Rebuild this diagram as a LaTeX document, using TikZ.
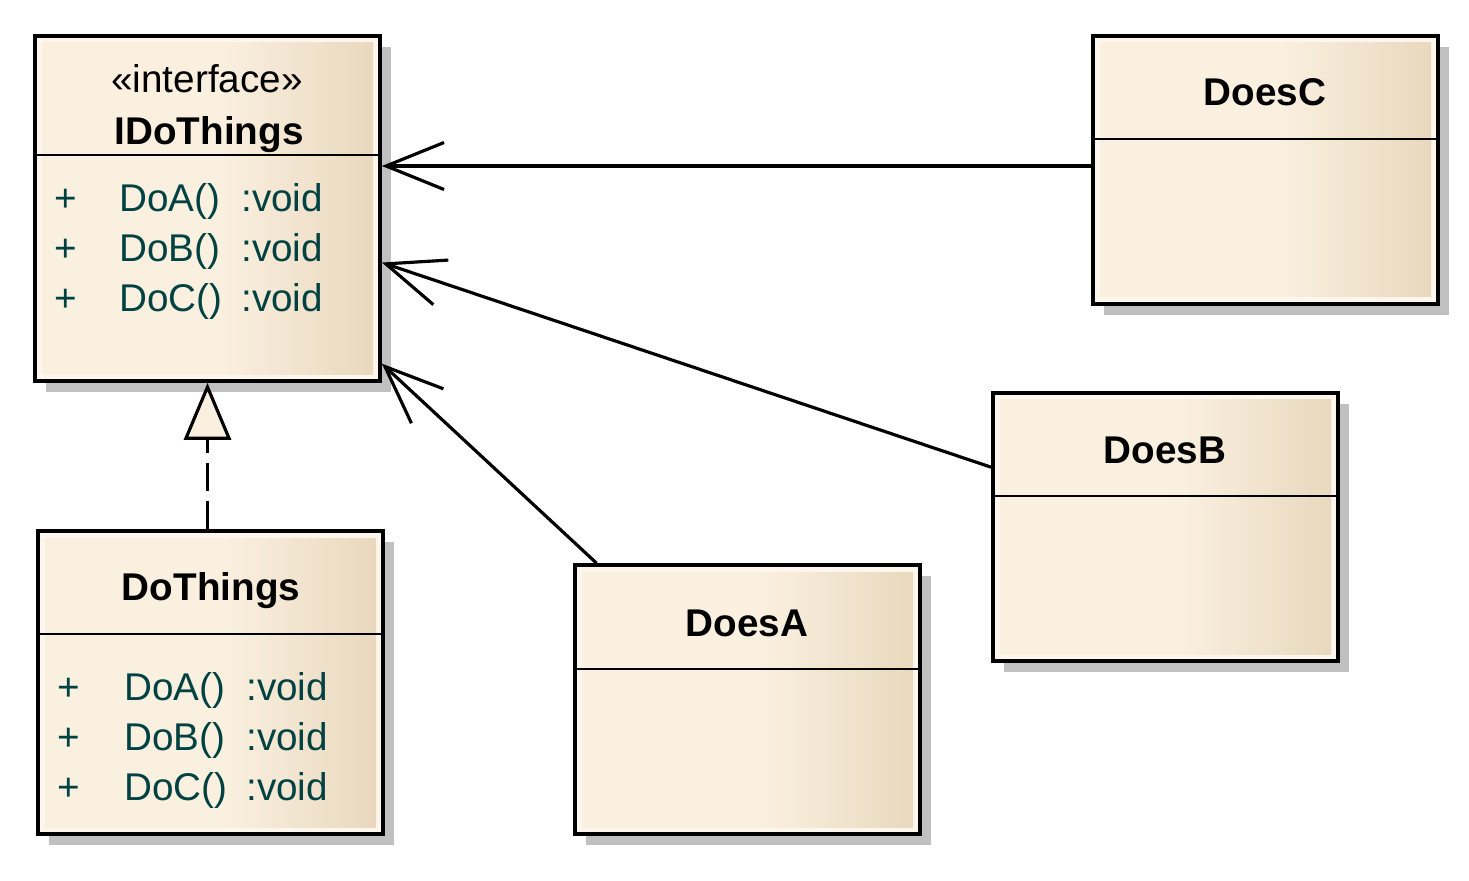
\documentclass[tikz,border=0pt]{standalone}
\usepackage{fontspec}
\setmainfont{Liberation Sans}
\usetikzlibrary{arrows.meta,calc,fit,shadows}
\definecolor{boxcream}{RGB}{250,240,224}
\definecolor{boxedge}{RGB}{252,246,236}
\definecolor{boxtan}{RGB}{232,215,188}
\definecolor{shadowgray}{RGB}{192,192,192}
\definecolor{optext}{RGB}{0,66,66}
\pgfdeclarehorizontalshading{boxshade}{100bp}{color(0bp)=(boxcream); color(52bp)=(boxcream); color(75bp)=(boxtan); color(100bp)=(boxtan)}

\begin{document}
\begin{tikzpicture}[
    x=0.02cm, y=-0.02cm,
    every node/.style={font=\fontsize{22}{26}\selectfont},
    classbox/.style={draw, line width=2.1pt, inner sep=0pt, fill=boxedge,
      drop shadow={shadow xshift=0.22cm, shadow yshift=-0.22cm, fill=shadowgray, opacity=1},
      path picture={\shade[shading=boxshade] ([shift={(0.14cm,-0.14cm)}]path picture bounding box.north west) rectangle ([shift={(-0.14cm,0.14cm)}]path picture bounding box.south east);}},
    sepline/.style={line width=1.7pt},
    classname/.style={anchor=base, font=\fontsize{22}{26}\selectfont\bfseries},
    op/.style={anchor=base west, text=optext, inner sep=0pt},
    assoc/.style={line width=1.8pt, -{Straight Barb[length=1.16cm, width=0.94cm]}},
    realize/.style={line width=1.8pt, dash pattern=on 0.56cm off 0.2cm,
      -{Triangle[length=1.14cm, width=0.94cm, fill=boxcream]}}
  ]
  \useasboundingbox (0,0) rectangle (1469,881);

  \node[classbox, fit={(35,36) (380,381)}] (idothings) {};
  \node[classbox, fit={(38,531) (383,834)}] (dothings) {};
  \node[classbox, fit={(575,565) (920,834)}] (doesa) {};
  \node[classbox, fit={(993,393) (1338,661)}] (doesb) {};
  \node[classbox, fit={(1093,36) (1438,304)}] (doesc) {};

  \draw[sepline] (idothings.west |- 0,155) -- (idothings.east |- 0,155);
  \draw[sepline] (dothings.west |- 0,634) -- (dothings.east |- 0,634);
  \draw[sepline] (doesa.west |- 0,669) -- (doesa.east |- 0,669);
  \draw[sepline] (doesb.west |- 0,496) -- (doesb.east |- 0,496);
  \draw[sepline] (doesc.west |- 0,139) -- (doesc.east |- 0,139);

  \node[anchor=base] (idothings-stereo) at (207,93) {«interface»};
  \node[classname] (idothings-name) at (209,145) {IDoThings};
  \node[classname] (dothings-name) at (211,600) {DoThings};
  \node[classname] (doesa-name) at (747,636) {DoesA};
  \node[classname] (doesb-name) at (1165,463) {DoesB};
  \node[classname] (doesc-name) at (1265,106) {DoesC};

  \foreach \m [count=\i] in {A,B,C} {
    \node[op] (idothings-plus\i) at (54,162+50*\i) {+};
    \node[op] (idothings-op\i) at (119,162+50*\i) {Do\m()};
    \node[op] (idothings-type\i) at (241,162+50*\i) {:void};
    \node[op] (dothings-plus\i) at (57,650+50*\i) {+};
    \node[op] (dothings-op\i) at (124,650+50*\i) {Do\m()};
    \node[op] (dothings-type\i) at (246,650+50*\i) {:void};
  }

  \coordinate (doesc-in) at ([yshift=0.08cm]doesc.west);
  \draw[assoc] (doesc-in) -- (idothings.east |- doesc-in);
  \draw[assoc] ($(doesb.north west)!0.28!(doesb.south west)$) -- ($(idothings.north east)!0.655!(idothings.south east)$);
  \draw[assoc] ($(doesa.north west)!0.067!(doesa.north east)$) -- ($(idothings.north east)!0.945!(idothings.south east)$);
  \draw[realize] (dothings.north -| idothings.south) -- (idothings.south);
\end{tikzpicture}
\end{document}
